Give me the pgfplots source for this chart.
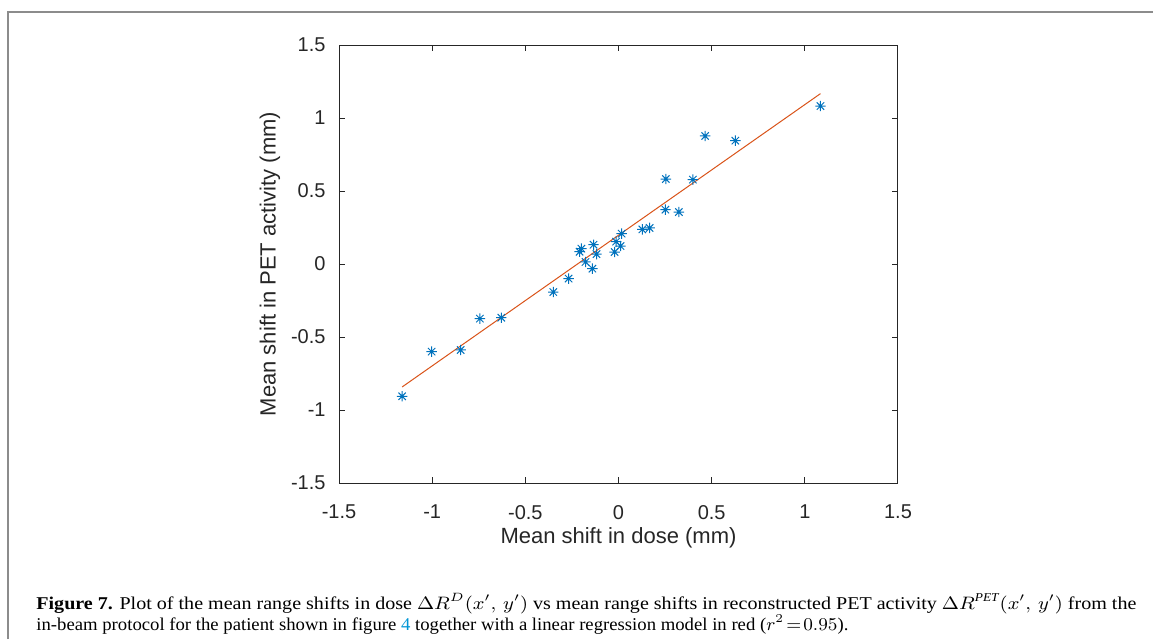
\documentclass[border=0pt]{standalone}
\usepackage{pgfplots}
\pgfplotsset{compat=1.18}
\usepackage{graphicx}
\usepackage{fontspec}
\setmainfont{Liberation Serif}
\newfontfamily\arial{Liberation Sans}

\definecolor{mblue}{rgb}{0,0.447,0.741}
\definecolor{mred}{rgb}{0.85,0.325,0.098}
\definecolor{axgray}{rgb}{0.15,0.15,0.15}
\definecolor{framegray}{rgb}{0.55,0.55,0.55}
\definecolor{linkblue}{RGB}{0,150,214}

% matlab-style asterisk: plus and cross together
\pgfdeclareplotmark{mstar}{%
  \pgfpathmoveto{\pgfqpoint{-\pgfplotmarksize}{0pt}}%
  \pgfpathlineto{\pgfqpoint{\pgfplotmarksize}{0pt}}%
  \pgfpathmoveto{\pgfqpoint{0pt}{-\pgfplotmarksize}}%
  \pgfpathlineto{\pgfqpoint{0pt}{\pgfplotmarksize}}%
  \pgfpathmoveto{\pgfqpoint{-0.7071\pgfplotmarksize}{-0.7071\pgfplotmarksize}}%
  \pgfpathlineto{\pgfqpoint{0.7071\pgfplotmarksize}{0.7071\pgfplotmarksize}}%
  \pgfpathmoveto{\pgfqpoint{-0.7071\pgfplotmarksize}{0.7071\pgfplotmarksize}}%
  \pgfpathlineto{\pgfqpoint{0.7071\pgfplotmarksize}{-0.7071\pgfplotmarksize}}%
  \pgfusepathqstroke}

\begin{document}
\begin{tikzpicture}
  \path[use as bounding box] (0,0) rectangle (576.5pt,319.5pt);
  % page frame
  \draw[framegray, line width=1pt] (4pt,0) -- (4pt,313.5pt) -- (576.5pt,313.5pt);

  \begin{axis}[
    at={(169.5pt,78pt)}, anchor=south west,
    scale only axis, width=279.5pt, height=219pt,
    xmin=-1.5, xmax=1.5, ymin=-1.5, ymax=1.5,
    xtick={-1.5,-1,-0.5,0,0.5,1,1.5},
    xticklabels={-1.5,-1,-0.5,0,0.5,1,1.5},
    ytick={-1.5,-1,-0.5,0,0.5,1,1.5},
    yticklabels={-1.5,-1,-0.5,0,0.5,1,1.5},
    tick align=inside, major tick length=2.8pt,
    axis line style={axgray, line width=0.5pt},
    every tick/.style={axgray, line width=0.5pt},
    tick label style={font=\arial\fontsize{10}{12}\selectfont, text=axgray},
    xticklabel style={yshift=-7.5pt},
    yticklabel style={xshift=-3.2pt},
    xlabel={Mean shift in dose (mm)},
    ylabel={Mean shift in PET activity (mm)},
    label style={font=\arial\fontsize{11}{13}\selectfont, text=axgray},
    xlabel style={at={(axis description cs:0.5,-0.124)}, anchor=center},
    ylabel style={at={(axis description cs:-0.1234,0.5)}, anchor=center},
    clip=false,
  ]
    % regression line
    \addplot[mred, line width=0.5pt] coordinates {(-1.161,-0.842) (1.084,1.167)};
    % mean shifts
    \addplot[only marks, mark=mstar, mark size=2.6pt, mblue,
             mark options={line width=0.5pt}] coordinates {
      (-1.161,-0.906) (-1.003,-0.600) (-0.847,-0.589) (-0.744,-0.374)
      (-0.629,-0.368) (-0.350,-0.192) (-0.268,-0.100) (-0.209,0.084)
      (-0.199,0.105) (-0.177,0.014) (-0.140,-0.032) (-0.134,0.132)
      (-0.118,0.068) (-0.021,0.082) (-0.013,0.153) (0.011,0.123)
      (0.017,0.208) (0.128,0.237) (0.167,0.247) (0.252,0.372)
      (0.324,0.356) (0.254,0.582) (0.399,0.578) (0.465,0.877)
      (0.627,0.845) (1.084,1.082)
    };
  \end{axis}

  % caption
  \node[anchor=base west, inner sep=0pt, font=\fontsize{9}{11}\selectfont] at (18pt,15pt)
    {\resizebox{550pt}{\height}{\textbf{Figure 7.} Plot of the mean range shifts in dose $\Delta R^{D}(x',\,y')$ vs mean range shifts in reconstructed PET activity $\Delta R^{\mathit{PET}}(x',\,y')$ from the}};
  \node[anchor=base west, inner sep=0pt, font=\fontsize{9}{11}\selectfont] at (18pt,4.5pt)
    {\resizebox{406pt}{\height}{in-beam protocol for the patient shown in figure \textcolor{linkblue}{4} together with a linear regression model in red ($r^{2}\!=\!0.95$).}};
\end{tikzpicture}
\end{document}
